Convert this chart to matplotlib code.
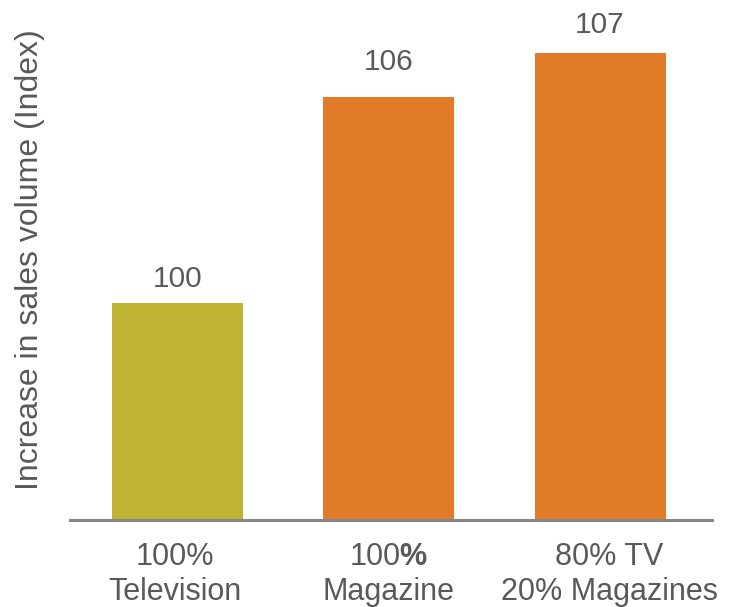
import matplotlib
matplotlib.use("Agg")
import matplotlib.pyplot as plt
from matplotlib.transforms import ScaledTranslation

# Data
categories = ["100%\nTelevision", "100$\\mathbf{\\%}$\nMagazine", "80% TV\n20% Magazines"]
index_values = [100, 106, 107]
# bar heights as drawn in the picture (percent of the tallest bar; the source is not to scale)
drawn_heights = [46.5, 90.6, 100.0]
bar_colors = ["#BFB533", "#E27B27", "#E27B27"]

plt.rcParams["font.family"] = ["Liberation Sans", "DejaVu Sans"]
plt.rcParams["mathtext.fontset"] = "custom"
plt.rcParams["mathtext.rm"] = "Liberation Sans"
plt.rcParams["mathtext.bf"] = "Liberation Sans:bold"

text_color = "#595959"
label_gap_pt = [11.5, 19.5, 14.5]  # gap between bar top and value label baseline

fig = plt.figure(figsize=(7.34, 6.07), dpi=100)
ax = fig.add_axes([70 / 734, 87 / 607, 642 / 734, 467 / 607])

x = list(range(len(categories)))
bars = ax.bar(x, drawn_heights, width=0.62, color=bar_colors)

for xi, h, v, g in zip(x, drawn_heights, index_values, label_gap_pt):
    ax.annotate(str(v), (xi, h), xytext=(0, g), textcoords="offset points",
                ha="center", va="baseline", fontsize=21.5, color=text_color)

ax.set_xlim(-0.51, 2.53)
ax.set_ylim(0, 100)
ax.set_xticks(x)
ax.set_xticklabels(categories, fontsize=22, color=text_color, linespacing=1.25)
ax.tick_params(axis="x", length=0, pad=15.5)
# small horizontal nudges of the tick labels, as in the reference
for lab, dx in zip(ax.get_xticklabels(), [-3, 0, 9]):
    lab.set_transform(lab.get_transform() + ScaledTranslation(dx / 100, 0, fig.dpi_scale_trans))
ax.set_yticks([])
for s in ["top", "right", "left"]:
    ax.spines[s].set_visible(False)
ax.spines["bottom"].set_color("#878787")
ax.spines["bottom"].set_linewidth(2.2)

fig.text(30 / 734, 1 - 260 / 607, "Increase in sales volume (Index)", rotation=90,
         ha="center", va="center", fontsize=23, color=text_color)

fig.savefig("out.png", dpi=100)
